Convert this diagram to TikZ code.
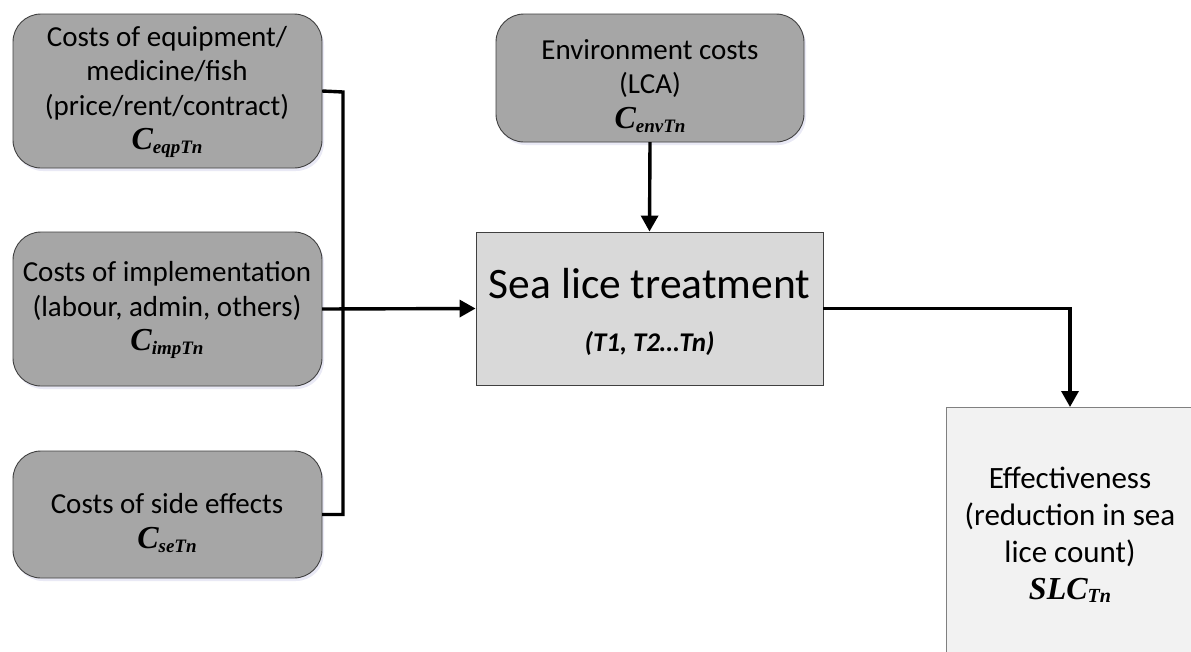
\documentclass[tikz,border=0pt]{standalone}
\usepackage{fontspec}
\setmainfont{Carlito}
\newfontfamily\tnr{Liberation Serif}
\usetikzlibrary{arrows.meta,shadows}
\newcommand{\costsym}[2]{{\tnr\bfseries\itshape\fontsize{32}{34}\selectfont #1\raisebox{-4pt}{\fontsize{19}{20}\selectfont #2}}}
\definecolor{boxgray}{HTML}{A6A6A6}
\definecolor{midgray}{HTML}{D9D9D9}
\definecolor{lightgray}{HTML}{F2F2F2}
\definecolor{edgegray}{HTML}{404040}
\begin{document}
\begin{tikzpicture}[x=1pt,y=-1pt,
  costbox/.style={draw=edgegray,line width=0.9pt,fill=boxgray,rounded corners=28pt,
    drop shadow={opacity=0.12,shadow xshift=2pt,shadow yshift=-3pt,fill=blue!40!gray}},
  flatbox/.style={draw=edgegray,line width=0.9pt},
  boxtext/.style={align=center,font=\fontsize{29}{34.5}\selectfont,inner sep=0pt},
  conn/.style={line width=3.4pt,line join=miter},
  arr/.style={conn,-{Triangle[length=16pt,width=17pt]}}
]
\useasboundingbox (0,0) rectangle (1191,651);
\fill[white] (0,0) rectangle (1191,651);

% cost boxes
\path[costbox] (13,14) rectangle (322,168);
\node[inner sep=0pt,minimum width=309pt,minimum height=154pt] (eqp) at (167.5,91) {};
\path[costbox] (13,232) rectangle (322,386);
\node[inner sep=0pt,minimum width=309pt,minimum height=154pt] (imp) at (167.5,309) {};
\path[costbox] (13,451) rectangle (322,578);
\node[inner sep=0pt,minimum width=309pt,minimum height=127pt] (se) at (167.5,514.5) {};
\path[costbox] (496,14) rectangle (804,142);
\node[inner sep=0pt,minimum width=308pt,minimum height=128pt] (env) at (650,78) {};

\node[boxtext] (eqpt) at (167,92) {Costs of equipment/\\medicine/fish\\(price/rent/contract)\\\costsym{C}{eqpTn}};
\node[boxtext] (impt) at (167,310) {Costs of implementation\\(labour, admin, others)\\\costsym{C}{impTn}};
\node[boxtext] (set) at (167,523) {Costs of side effects\\\costsym{C}{seTn}};
\node[boxtext] (envt) at (650,86) {Environment costs\\(LCA)\\\costsym{C}{envTn}};

% sea lice treatment
\node[flatbox,fill=midgray,minimum width=347pt,minimum height=153pt,inner sep=0pt] (sea) at (649.5,308.5) {};
\node[inner sep=0pt,anchor=base,font=\fontsize{43.5}{48}\selectfont] (seat) at (649.5,298) {Sea lice treatment};
\node[inner sep=0pt,anchor=base,font=\fontsize{27}{30}\selectfont\bfseries\itshape] (seat2) at (649.5,351) {(T1, T2\ldots Tn)};

% effectiveness (cut off by page edge)
\begin{scope}
\clip (0,0) rectangle (1191,651);
\node[draw=gray,line width=0.9pt,fill=lightgray,minimum width=250pt,minimum height=260pt,inner sep=0pt,anchor=north west] (eff) at (946,407) {};
\end{scope}
\node[align=center,inner sep=0pt,font=\fontsize{31}{37}\selectfont] (efft) at (1070,535) {Effectiveness\\(reduction in sea\\lice count)\\{\tnr\bfseries\itshape\fontsize{32}{34}\selectfont SLC\raisebox{-3pt}{\fontsize{20}{20}\selectfont Tn}}};

% connectors
\coordinate (jx) at (343,92);
\draw[conn] (eqp.east) -- (jx) -- (jx |- se.east) -- (se.east);
\draw[arr] (imp.east) -- (sea.west);
\draw[arr] (env.south) -- (sea.north);
\coordinate (eff top) at (1070,407);
\draw[arr] (sea.east) -| (eff top);
\end{tikzpicture}
\end{document}
